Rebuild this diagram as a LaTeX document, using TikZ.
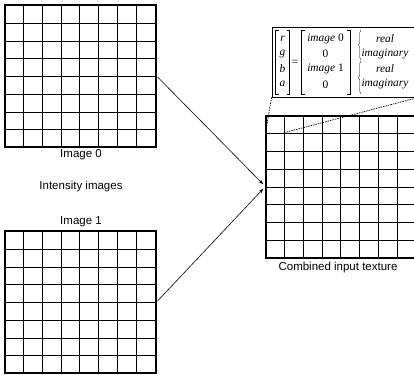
\documentclass[tikz,border=0pt]{standalone}
\usepackage{fontspec}
\setmainfont{Liberation Sans}
\newfontfamily\matfont{Liberation Serif}
\usetikzlibrary{arrows.meta,decorations.pathreplacing}

\tikzset{
  imgframe/.style={draw, line width=1.2pt, minimum width=151pt, minimum height=142pt, inner sep=0pt},
  cellgrid/.style={line width=0.9pt, xstep=18.875pt, ystep=17.75pt},
  caption/.style={font=\fontsize{11.5}{13}\selectfont, inner sep=0pt},
  mtxt/.style={font=\matfont\fontsize{11.4}{13}\selectfont, inner sep=0pt},
  feed/.style={-{Stealth[length=5pt,width=3.5pt]}, line width=0.6pt, shorten <=1.5pt, shorten >=3pt},
  zoomline/.style={dash pattern=on 1.5pt off 1pt, line width=0.7pt},
  bracket/.style={line width=0.5pt},
  pairbrace/.style={decorate, decoration={brace, amplitude=2.5pt}, line width=0.4pt},
}

\begin{document}
\begin{tikzpicture}[x=1pt, y=1pt]
  \useasboundingbox (0,0) rectangle (414,374);

  % the two intensity images
  \node[imgframe] (img0) at (80.5,298) {};
  \node[imgframe] (img1) at (80.5,72) {};
  \draw[cellgrid, shift={(img0.south west)}] (0,0) grid (151,142);
  \draw[cellgrid, shift={(img1.south west)}] (0,0) grid (151,142);
  \node[caption] (cap0) at (81,219) {Image 0};
  \node[caption] (capint) at (81,187) {Intensity images};
  \node[caption] (cap1) at (81,152) {Image 1};

  % combined texture
  \node[imgframe] (tex) at (341.5,187.5) {};
  \draw[cellgrid, shift={(tex.south west)}] (0,0) grid (151,142);
  \node[caption] (captex) at (338,106) {Combined input texture};

  \draw[feed] (img0.east) to (tex.west);
  \draw[feed] (img1.east) to (tex.west);

  % texel layout
  \node[draw, line width=0.8pt, minimum width=146pt, minimum height=70pt, inner sep=0pt] (pix) at (345,312) {};
  \node[mtxt] (r) at (282.5,335.3) {\itshape r};
  \node[mtxt] (g) at (282.5,320.3) {\itshape g};
  \node[mtxt] (b) at (282.5,305.3) {\itshape b};
  \node[mtxt] (a) at (282.5,289.7) {\itshape a};
  \node[mtxt] (eq) at (295,311) {=};
  \node[mtxt] (i0) at (325.5,335.3) {\itshape image \upshape 0};
  \node[mtxt] (z0) at (325.5,320.3) {0};
  \node[mtxt] (i1) at (325.5,305.3) {\itshape image \upshape 1};
  \node[mtxt] (z1) at (325.5,289.7) {0};
  \node[mtxt] (re0) at (385,335.3) {\itshape real};
  \node[mtxt] (im0) at (385,320.3) {\itshape imaginary};
  \node[mtxt] (re1) at (385,305.3) {\itshape real};
  \node[mtxt] (im1) at (385,289.7) {\itshape imaginary};
  \draw[bracket] (278.5,344) -- (275.5,344) -- (275.5,280) -- (278.5,280);
  \draw[bracket] (286.7,344) -- (289.7,344) -- (289.7,280) -- (286.7,280);
  \draw[bracket] (304.5,344) -- (301.5,344) -- (301.5,280) -- (304.5,280);
  \draw[bracket] (347,344) -- (350,344) -- (350,280) -- (347,280);
  \draw[pairbrace] (361,314) -- (361,344);
  \draw[pairbrace] (361,280) -- (361,313);

  % zoom onto the first texel
  \coordinate (cellsw) at ([yshift=-17.75pt]tex.north west);
  \coordinate (cellse) at ([xshift=18.875pt, yshift=-17.75pt]tex.north west);
  \draw[zoomline] (pix.south west) -- (cellsw);
  \draw[zoomline] (pix.south east) -- (cellse);
\end{tikzpicture}
\end{document}
